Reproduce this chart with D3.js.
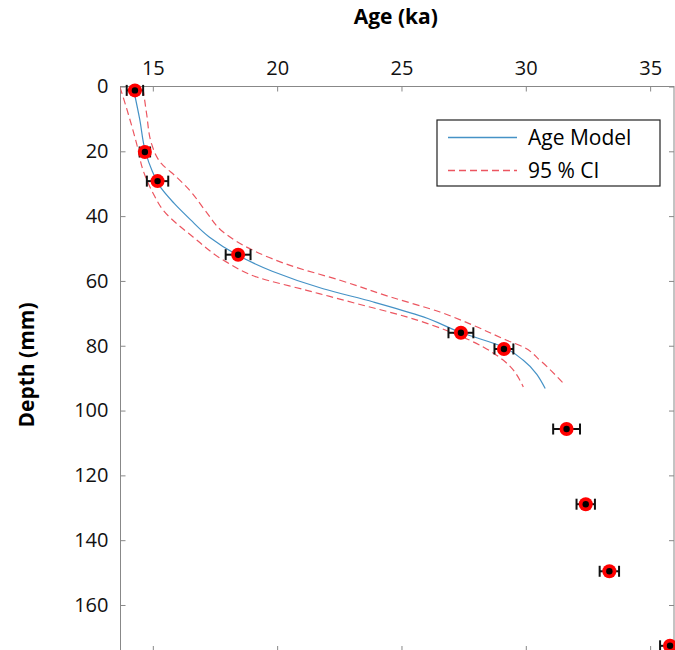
<!DOCTYPE html>
<html>
<head>
  <meta charset="UTF-8">
  <title>Age model</title>
  <script src="https://cdn.jsdelivr.net/npm/d3@7"></script>
  <style>
    body { margin: 0; background: #fff; font-family: "Open Sans", sans-serif; }
  </style>
</head>
<body>
  <div id="chart"></div>
  <script>
    // dated samples
    var ages = [14.28, 14.68, 15.19, 18.43, 27.39, 29.12, 31.64, 32.41, 33.36, 35.80];
    var depths = [1.2, 20.2, 29.2, 51.9, 76.0, 81.0, 105.7, 128.9, 149.6, 172.6];
    var ageErr = [0.33, 0.21, 0.43, 0.5, 0.5, 0.38, 0.54, 0.37, 0.39, 0.4];

    // age model (traced)
    var modelDepth = [0, 10, 20, 26, 31, 36, 41, 46.5, 52, 57, 62.4, 66.5, 71.1, 76.0, 80.4, 84.5, 93.2];
    var modelAge = [14.2, 14.47, 14.7, 14.97, 15.3, 15.85, 16.5, 17.28, 18.4, 19.8, 21.85, 23.87, 25.88, 27.42, 29.10, 29.90, 30.78];

    // 95 % CI, young side
    var ciLoDepth = [0.2, 8.4, 17.7, 25.9, 33.1, 38.2, 46.5, 54.2, 58.8, 62.9, 67.0, 71.1, 75.7, 80.4, 84.5, 92.7];
    var ciLoAge = [13.68, 14.01, 14.35, 14.61, 15.02, 15.42, 16.63, 17.97, 19.18, 21.19, 23.20, 25.21, 26.95, 28.29, 29.10, 29.90];

    // 95 % CI, old side
    var ciHiDepth = [0.7, 8.4, 17.7, 23.8, 28.0, 32.1, 38.2, 44.9, 50.6, 55.2, 59.8, 64.9, 69.6, 73.7, 78.3, 80.4, 84.5, 91.6];
    var ciHiAge = [14.61, 14.75, 14.95, 15.35, 15.96, 16.49, 17.10, 17.83, 19.04, 20.52, 22.53, 24.54, 26.55, 27.89, 29.23, 29.90, 30.57, 31.51];

    var xTicks = [15, 20, 25, 30, 35];
    var yTicks = [0, 20, 40, 60, 80, 100, 120, 140, 160];

    var W = 675, H = 650;
    var padL = 120.5, padR = 675, padT = 86.5, padB = 651;

    var svg = d3.select('#chart')
      .append('svg')
      .attr('width', W)
      .attr('height', H);

    var x = d3.scaleLinear().domain([13.7, 36]).range([padL, padR]);
    var y = d3.scaleLinear().domain([0, 174.2]).range([padT, padB]);

    svg.append('clipPath').attr('id', 'clip')
      .append('rect')
      .attr('x', padL).attr('y', padT)
      .attr('width', padR - padL).attr('height', padB - padT);

    // axes, MATLAB style box with inward ticks
    function styleAxis(g) {
      g.select('.domain').remove();
      g.selectAll('.tick line').attr('stroke', '#888').attr('stroke-width', 1);
      g.selectAll('.tick text')
        .attr('fill', '#111')
        .style('font-family', '"Open Sans", sans-serif')
        .style('font-size', '20px');
    }

    svg.append('g')
      .attr('transform', 'translate(0,' + padT + ')')
      .call(d3.axisTop(x).tickValues(xTicks).tickSizeInner(-5).tickSizeOuter(0).tickPadding(12))
      .call(styleAxis);

    svg.append('g')
      .attr('transform', 'translate(0,' + padB + ')')
      .call(d3.axisBottom(x).tickValues(xTicks).tickSizeInner(-5).tickSizeOuter(0).tickFormat(''))
      .call(styleAxis);

    svg.append('g')
      .attr('transform', 'translate(' + padL + ',0)')
      .call(d3.axisLeft(y).tickValues(yTicks).tickSizeInner(-5).tickSizeOuter(0).tickPadding(12))
      .call(styleAxis);

    svg.append('g')
      .attr('transform', 'translate(' + (padR - 1) + ',0)')
      .call(d3.axisRight(y).tickValues(yTicks).tickSizeInner(-5).tickSizeOuter(0).tickFormat(''))
      .call(styleAxis);

    svg.append('rect')
      .attr('x', padL).attr('y', padT)
      .attr('width', padR - 1 - padL).attr('height', padB - padT)
      .attr('fill', 'none')
      .attr('stroke', '#888')
      .attr('stroke-width', 1);

    // axis titles
    svg.append('text')
      .attr('x', (padL + padR) / 2 - 2)
      .attr('y', 24)
      .attr('text-anchor', 'middle')
      .style('font-weight', 'bold')
      .style('font-size', '21px')
      .text('Age (ka)');

    svg.append('text')
      .attr('transform', 'translate(34,365) rotate(-90)')
      .attr('text-anchor', 'middle')
      .style('font-weight', 'bold')
      .style('font-size', '21px')
      .text('Depth (mm)');

    // curves
    var line = d3.line()
      .x(d => x(d[0]))
      .y(d => y(d[1]))
      .curve(d3.curveMonotoneY);

    var plot = svg.append('g').attr('clip-path', 'url(#clip)');

    plot.append('path')
      .datum(d3.zip(ciLoAge, ciLoDepth))
      .attr('d', line)
      .attr('fill', 'none')
      .attr('stroke', '#ec5660')
      .attr('stroke-width', 1.2)
      .attr('stroke-dasharray', '7,4');

    plot.append('path')
      .datum(d3.zip(ciHiAge, ciHiDepth))
      .attr('d', line)
      .attr('fill', 'none')
      .attr('stroke', '#ec5660')
      .attr('stroke-width', 1.2)
      .attr('stroke-dasharray', '7,4');

    plot.append('path')
      .datum(d3.zip(modelAge, modelDepth))
      .attr('d', line)
      .attr('fill', 'none')
      .attr('stroke', '#4592c6')
      .attr('stroke-width', 1.2);

    // samples with error bars
    var pts = svg.append('g').selectAll('g')
      .data(d3.range(ages.length))
      .enter()
      .append('g');

    pts.append('line')
      .attr('x1', i => x(ages[i] - ageErr[i]))
      .attr('x2', i => x(ages[i] + ageErr[i]))
      .attr('y1', i => y(depths[i]))
      .attr('y2', i => y(depths[i]))
      .attr('stroke', '#111')
      .attr('stroke-width', 2);

    pts.selectAll('.cap')
      .data(i => [[ages[i] - ageErr[i], depths[i]], [ages[i] + ageErr[i], depths[i]]])
      .enter()
      .append('line')
      .attr('x1', d => x(d[0]))
      .attr('x2', d => x(d[0]))
      .attr('y1', d => y(d[1]) - 5.5)
      .attr('y2', d => y(d[1]) + 5.5)
      .attr('stroke', '#111')
      .attr('stroke-width', 2);

    pts.append('circle')
      .attr('cx', i => x(ages[i]))
      .attr('cy', i => y(depths[i]))
      .attr('r', 7)
      .attr('fill', '#f00');

    pts.append('circle')
      .attr('cx', i => x(ages[i]))
      .attr('cy', i => y(depths[i]))
      .attr('r', 3.2)
      .attr('fill', '#000');

    // legend
    var legend = svg.append('g').attr('transform', 'translate(437,120)');
    legend.append('rect')
      .attr('width', 223).attr('height', 66)
      .attr('fill', '#fff')
      .attr('stroke', '#222')
      .attr('stroke-width', 1.2);

    var legendItems = [
      { label: 'Age Model', color: '#4592c6', dash: null },
      { label: '95 % CI', color: '#ec5660', dash: '7,4' }
    ];

    legendItems.forEach(function (d, i) {
      var ly = 17.5 + i * 33;
      legend.append('line')
        .attr('x1', 11).attr('x2', 80)
        .attr('y1', ly).attr('y2', ly)
        .attr('stroke', d.color)
        .attr('stroke-width', 1.4)
        .attr('stroke-dasharray', d.dash);
      legend.append('text')
        .attr('x', 91)
        .attr('y', ly + 7.5)
        .style('font-size', '21px')
        .text(d.label);
    });
  </script>
</body>
</html>
